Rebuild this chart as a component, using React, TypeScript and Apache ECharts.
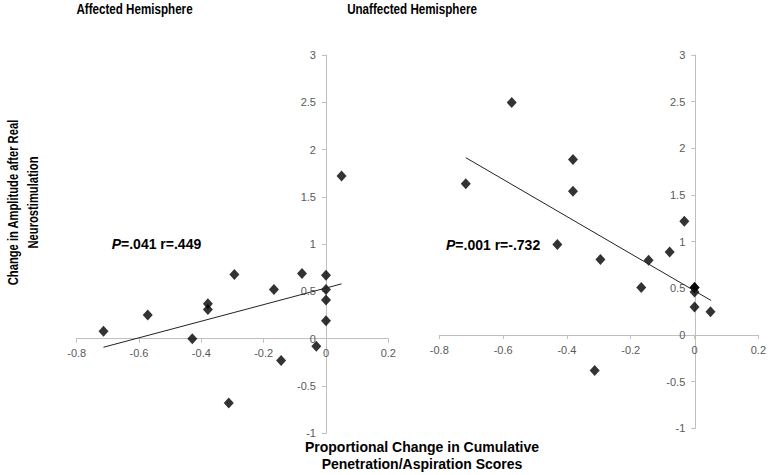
import React, { useEffect, useRef } from "react";
import * as echarts from "echarts";

const affectedX = [-0.714, -0.572, -0.429, -0.379, -0.379, -0.294, -0.312, -0.167, -0.144, -0.077, -0.031, 0, 0, 0, 0, 0.05];
const affectedY = [0.08, 0.25, 0.0, 0.37, 0.31, 0.68, -0.68, 0.52, -0.23, 0.69, -0.08, 0.67, 0.52, 0.41, 0.19, 1.72];
const unaffectedX = [-0.717, -0.573, -0.381, -0.381, -0.43, -0.295, -0.313, -0.167, -0.144, -0.078, -0.032, 0, 0, 0, 0, 0.05];
const unaffectedY = [1.62, 2.49, 1.88, 1.54, 0.97, 0.81, -0.38, 0.51, 0.8, 0.89, 1.22, 0.51, 0.51, 0.46, 0.3, 0.25];
const trendAffectedX = [-0.714, 0.05];
const trendAffectedY = [-0.09, 0.58];
const trendUnaffectedX = [-0.717, 0.052];
const trendUnaffectedY = [1.9, 0.37];

const titles = ["Affected Hemisphere", "Unaffected Hemisphere"];
const stats = [
  ["P", "=.041 r=.449"],
  ["P", "=.001 r=-.732"],
];
const yName = ["Change in Amplitude after Real", "Neurostimulation"];
const xName = ["Proportional Change in Cumulative", "Penetration/Aspiration Scores"];

const zip = (xs: number[], ys: number[]) => xs.map((x, i) => [x, ys[i]]);

const SANS = "'Liberation Sans', Arial, sans-serif";

const grids = [
  { left: 76.7, top: 55, width: 311.6, height: 378.3 },
  { left: 439.3, top: 55, width: 320, height: 373.4 },
];
const X_MIN = -0.8, X_MAX = 0.2, Y_MIN = -1, Y_MAX = 3;

function makeX(gridIndex: number) {
  const g = grids[gridIndex];
  // place the axis line at y = 0 (Excel "crosses at 0")
  const offset = -((0 - Y_MIN) / (Y_MAX - Y_MIN)) * g.height;
  return {
    type: "value",
    gridIndex,
    position: "bottom",
    offset,
    min: X_MIN,
    max: X_MAX,
    interval: 0.2,
    splitLine: { show: false },
    axisLine: { show: true, onZero: false, lineStyle: { color: "#bfbfbf", width: 1 } },
    axisTick: { show: true, length: 4, lineStyle: { color: "#bfbfbf" } },
    axisLabel: { color: "#595959", fontSize: 11, fontFamily: SANS, margin: 9 },
  };
}
function makeY(gridIndex: number) {
  const g = grids[gridIndex];
  const offset = -((0 - X_MIN) / (X_MAX - X_MIN)) * g.width;
  return {
    type: "value",
    gridIndex,
    position: "left",
    offset,
    min: Y_MIN,
    max: Y_MAX,
    interval: 0.5,
    splitLine: { show: false },
    axisLine: { show: true, onZero: false, lineStyle: { color: "#bfbfbf", width: 1 } },
    axisTick: { show: true, length: 4, lineStyle: { color: "#bfbfbf" } },
    axisLabel: { color: "#595959", fontSize: 11, fontFamily: SANS, margin: 10 },
  };
}

export default function App() {
  const ref = useRef<HTMLDivElement>(null);
  useEffect(() => {
    if (!ref.current) return;
    const chart = echarts.init(ref.current, null, { renderer: "svg" });
    const scatterStyle = {
      type: "scatter",
      symbol: "diamond",
      symbolSize: [10, 11],
      itemStyle: { color: "#000" },
    };
    const lineStyle = {
      type: "line",
      symbol: "none",
      lineStyle: { color: "#222", width: 1 },
      silent: true,
    };
    const bold14 = `bold 14px ${SANS}`;
    chart.setOption({
      animation: false,
      grid: grids,
      xAxis: [makeX(0), makeX(1)],
      yAxis: [makeY(0), makeY(1)],
      series: [
        { ...lineStyle, xAxisIndex: 0, yAxisIndex: 0, data: zip(trendAffectedX, trendAffectedY) },
        { ...lineStyle, xAxisIndex: 1, yAxisIndex: 1, data: zip(trendUnaffectedX, trendUnaffectedY) },
        { ...scatterStyle, xAxisIndex: 0, yAxisIndex: 0, data: zip(affectedX, affectedY) },
        { ...scatterStyle, xAxisIndex: 1, yAxisIndex: 1, data: zip(unaffectedX, unaffectedY) },
      ],
      graphic: [
        {
          type: "text",
          x: 134.5,
          y: 9.5,
          scaleX: 0.83,
          style: { text: titles[0], font: bold14, fill: "#000", textAlign: "center", textVerticalAlign: "middle" },
        },
        {
          type: "text",
          x: 412,
          y: 9.5,
          scaleX: 0.83,
          style: { text: titles[1], font: bold14, fill: "#000", textAlign: "center", textVerticalAlign: "middle" },
        },
        {
          type: "text",
          x: 111.7,
          y: 243.5,
          style: {
            text: `{i|${stats[0][0]}}{n|${stats[0][1]}}`,
            textAlign: "left",
            textVerticalAlign: "middle",
            rich: {
              i: { font: `italic bold 14px ${SANS}`, fill: "#000" },
              n: { font: bold14, fill: "#000" },
            },
          },
        },
        {
          type: "text",
          x: 446,
          y: 244.5,
          style: {
            text: `{i|${stats[1][0]}}{n|${stats[1][1]}}`,
            textAlign: "left",
            textVerticalAlign: "middle",
            rich: {
              i: { font: `italic bold 14px ${SANS}`, fill: "#000" },
              n: { font: bold14, fill: "#000" },
            },
          },
        },
        {
          type: "text",
          x: 14,
          y: 202.5,
          rotation: Math.PI / 2,
          scaleX: 0.8,
          style: { text: yName[0], font: bold14, fill: "#000", textAlign: "center", textVerticalAlign: "middle" },
        },
        {
          type: "text",
          x: 34,
          y: 202.5,
          rotation: Math.PI / 2,
          scaleX: 0.8,
          style: { text: yName[1], font: bold14, fill: "#000", textAlign: "center", textVerticalAlign: "middle" },
        },
        {
          type: "text",
          x: 422,
          y: 446.5,
          style: { text: xName[0], font: bold14, fill: "#000", textAlign: "center", textVerticalAlign: "middle" },
        },
        {
          type: "text",
          x: 422,
          y: 463.5,
          style: { text: xName[1], font: bold14, fill: "#000", textAlign: "center", textVerticalAlign: "middle" },
        },
      ],
    });
    return () => chart.dispose();
  }, []);
  return (
    <div
      ref={ref}
      style={{ position: "fixed", left: 0, top: 0, width: 769, height: 475, background: "#fff" }}
    />
  );
}
